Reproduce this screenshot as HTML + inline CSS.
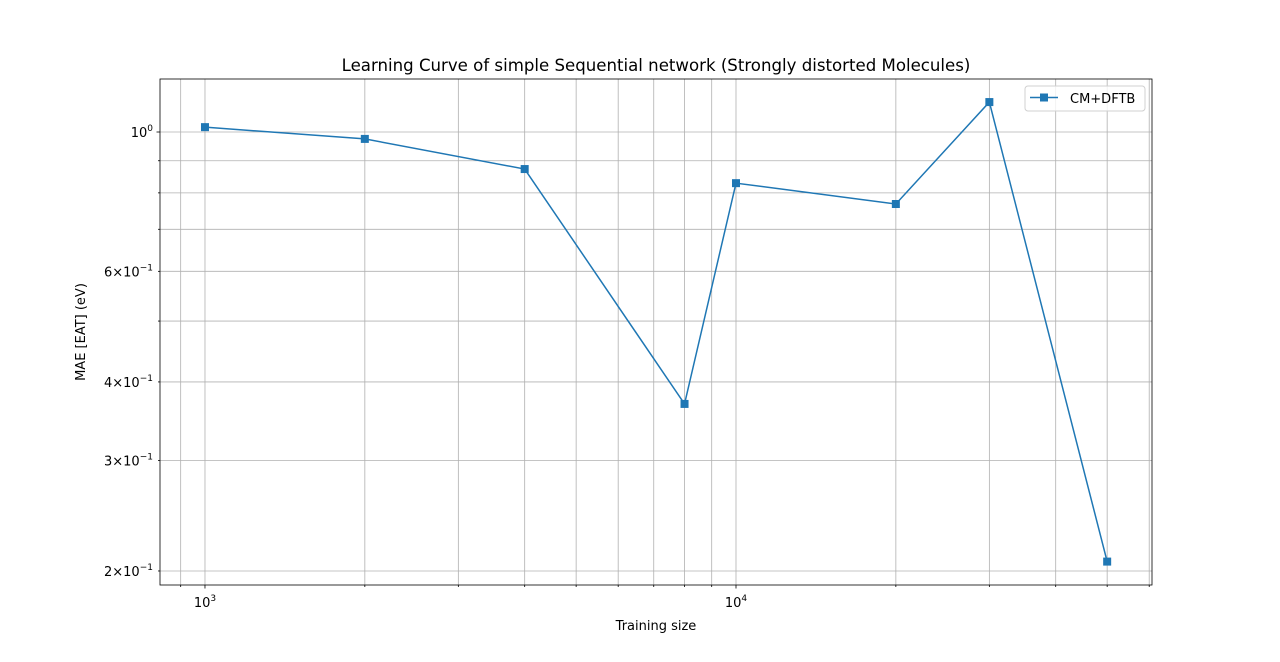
<!DOCTYPE html>
<html><head><meta charset="utf-8"><style>
body{margin:0;background:#fff;}
svg text{font-family:"DejaVu Sans","Liberation Sans",sans-serif;fill:#000;}
</style></head><body>
<svg id="chart" width="1280" height="657" xmlns="http://www.w3.org/2000/svg"></svg>
<script>
const trainSizes=[1000,2000,4000,8000,10000,20000,30000,50000];
const maeValues=[1.018,0.975,0.873,0.369,0.829,0.768,1.116,0.207];
const yTickLabels=[[1,'10','0'],[0.6,'6\u00d710','\u22121'],[0.4,'4\u00d710','\u22121'],[0.3,'3\u00d710','\u22121'],[0.2,'2\u00d710','\u22121']];
const xTickLabels=[[1000,'10','3'],[10000,'10','4']];

const L=160,R=1152,T=79,B=585;
const xmin=2.9153,xmax=4.7834,ymin=-0.7213,ymax=0.0844;
const sx=v=>L+(Math.log10(v)-xmin)/(xmax-xmin)*(R-L);
const sy=v=>B-(Math.log10(v)-ymin)/(ymax-ymin)*(B-T);
const svg=document.getElementById('chart');
const NS='http://www.w3.org/2000/svg';
function mk(tag,attrs,parent){const e=document.createElementNS(NS,tag);for(const k in attrs)e.setAttribute(k,attrs[k]);(parent||svg).appendChild(e);return e;}

const grid=mk('g',{});


for(let d=100;d<=100000;d*=10){for(let m=1;m<10;m++){const v=d*m;const lv=Math.log10(v);if(lv<xmin||lv>xmax)continue;const x=sx(v);
 mk('line',{x1:x,x2:x,y1:T,y2:B,stroke:'#b0b0b0','stroke-width':0.8},grid);
 mk('line',{x1:x,x2:x,y1:B,y2:B+(m==1?3.5:2),stroke:'#000','stroke-width':0.8});}}
for(let d=0.1;d<=1.01;d*=10){for(let m=1;m<10;m++){const v=d*m;const lv=Math.log10(v);if(lv<ymin||lv>ymax)continue;const y=sy(v);
 mk('line',{x1:L,x2:R,y1:y,y2:y,stroke:'#b0b0b0','stroke-width':0.8},grid);
 mk('line',{x1:L,x2:L-(m==1&&d>0.5?3.5:2),y1:y,y2:y,stroke:'#000','stroke-width':0.8});}}

yTickLabels.forEach(t=>{const y=sy(t[0]);const tx=mk('text',{x:L-7,y:y+5,'text-anchor':'end','font-size':13});
 
 tx.innerHTML=t[1]+'<tspan dy="-6" font-size="9">'+t[2]+'</tspan>';});
xTickLabels.forEach(t=>{const x=sx(t[0]);const tx=mk('text',{x:x,y:B+22,'text-anchor':'middle','font-size':13});
 
 tx.innerHTML=t[1]+'<tspan dy="-6" font-size="9">'+t[2]+'</tspan>';});

const pts=trainSizes.map((v,i)=>sx(v)+','+sy(maeValues[i])).join(' ');
const line=mk('polyline',{points:pts,fill:'none',stroke:'#1f77b4','stroke-width':1.5});


trainSizes.forEach((v,i)=>{const r=mk('rect',{x:sx(v)-4,y:sy(maeValues[i])-4,width:8,height:8,fill:'#1f77b4'});
 
 });

const fr=mk('rect',{x:L,y:T,width:R-L,height:B-T,fill:'none',stroke:'#000','stroke-width':0.8});



const tt=mk('text',{x:656,y:71,'text-anchor':'middle','font-size':16.6});tt.textContent='Learning Curve of simple Sequential network (Strongly distorted Molecules)';

const xl=mk('text',{x:656,y:630,'text-anchor':'middle','font-size':13});xl.textContent='Training size';

const yl=mk('text',{x:0,y:0,'text-anchor':'middle','font-size':13,transform:'translate(85,332) rotate(-90)'});yl.textContent='MAE [EAT] (eV)';


const lg=mk('g',{});


mk('rect',{x:1025,y:86,width:120,height:25,rx:3,fill:'#fff','fill-opacity':0.8,stroke:'#d0d0d0','stroke-width':1},lg);
mk('line',{x1:1030,x2:1058,y1:97.5,y2:97.5,stroke:'#1f77b4','stroke-width':1.5},lg);
mk('rect',{x:1040,y:93.5,width:8,height:8,fill:'#1f77b4'},lg);
const lt=mk('text',{x:1070,y:103,'font-size':13},lg);lt.textContent='CM+DFTB';

</script>
</body></html>
